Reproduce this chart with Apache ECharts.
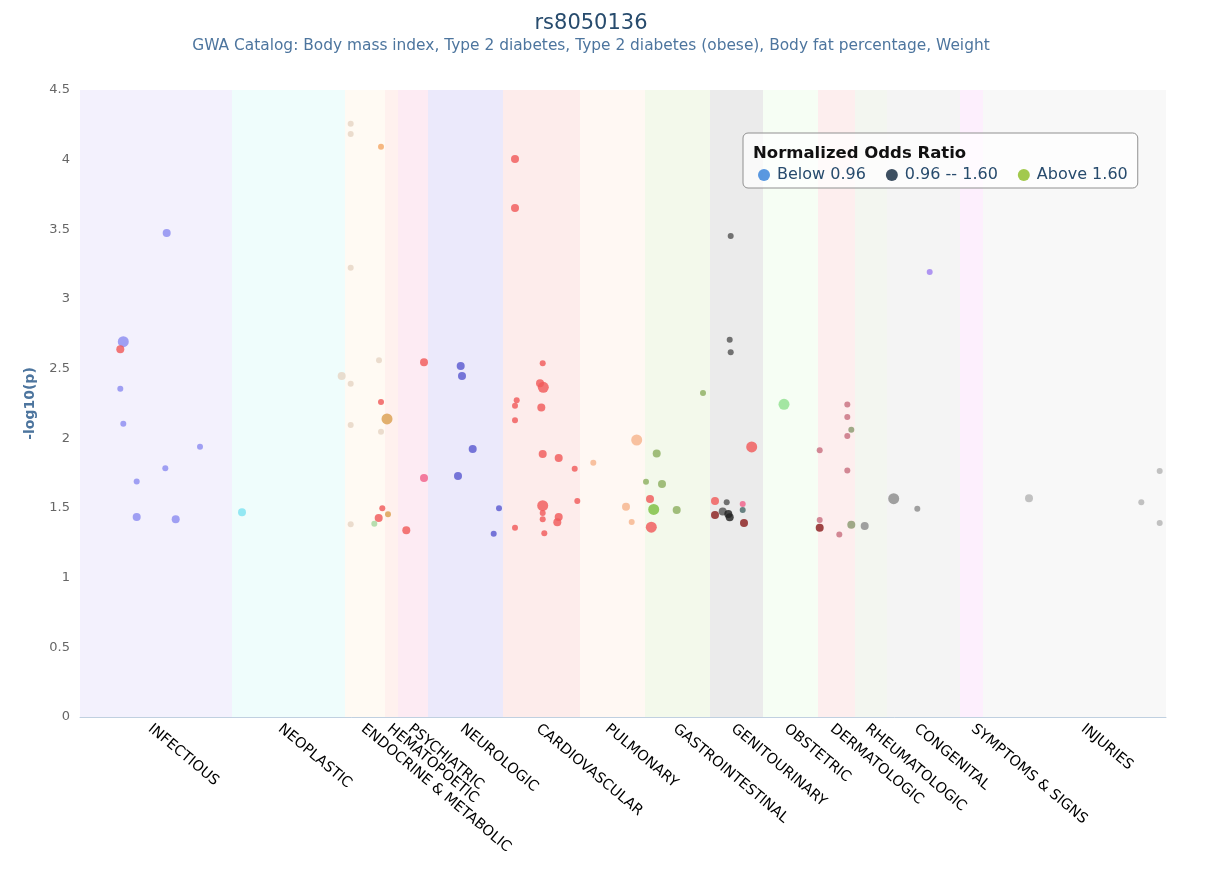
<!DOCTYPE html>
<html><head><meta charset="utf-8">
<script src="https://cdn.jsdelivr.net/npm/echarts@6/dist/echarts.min.js"></script>
<style>html,body{margin:0;padding:0;background:#fff}#c{width:1220px;height:881px}</style>
</head><body><div id="c"></div>
<script>
// ---------------- data ----------------
const titleText = 'rs8050136';
const subtitleText = 'GWA Catalog: Body mass index, Type 2 diabetes, Type 2 diabetes (obese), Body fat percentage, Weight';
const categories = ['INFECTIOUS','NEOPLASTIC','ENDOCRINE & METABOLIC','HEMATOPOETIC','PSYCHIATRIC','NEUROLOGIC','CARDIOVASCULAR','PULMONARY','GASTROINTESTINAL','GENITOURINARY','OBSTETRIC','DERMATOLOGIC','RHEUMATOLOGIC','CONGENITAL','SYMPTOMS & SIGNS','INJURIES'];
// phenotype-position boundaries of each category
const categoryEdges = [0,152,265,305,318,348,423,500,565,630,683,738,775,807,880,903,1086];
// phenotype-position of each category's tick label
const categoryTicks = [70,200,283,309,330,382,458,527,595,653,706,752,787,836,893,1003];
const yTicks = [0,0.5,1,1.5,2,2.5,3,3.5,4,4.5];
const legendTitle = 'Normalized Odds Ratio';
const legendNames = ['Below 0.96','0.96 -- 1.60','Above 1.60'];
// [position, -log10(p), weight class, group]
const points = [
  [43.3,2.694,3,'inf'],[40.3,2.64,2,'red'],[40.3,2.356,1,'inf'],[43.3,2.105,1,'inf'],[120,1.94,1,'inf'],
  [85.3,1.785,1,'inf'],[56.7,1.69,1,'inf'],[56.7,1.435,2,'inf'],[95.7,1.419,2,'inf'],[86.7,3.474,2,'inf'],
  [162,1.469,2,'cyan'],
  [270.7,4.258,1,'beige'],[270.7,4.184,1,'beige'],[270.7,3.225,1,'beige'],[299,2.56,1,'beige'],[261.7,2.447,2,'beige'],
  [270.7,2.392,1,'beige'],[270.7,2.096,1,'beige'],[301,2.048,1,'beige'],[270.7,1.383,1,'beige'],
  [301,4.093,1,'orange'],[307,2.139,3,'tan'],[308,1.455,1,'tan'],
  [301,2.261,1,'red'],[302.3,1.498,1,'red'],[298.7,1.428,2,'red'],[294.3,1.387,1,'lgreen'],
  [344,2.546,2,'red'],[344,1.715,2,'pink'],[326.3,1.34,2,'red'],
  [380.7,2.52,2,'neuro'],[382,2.447,2,'neuro'],[392.7,1.923,2,'neuro'],[378,1.73,2,'neuro'],[419,1.498,1,'neuro'],[413.7,1.316,1,'neuro'],
  [435,4.005,2,'red'],[435,3.653,2,'red'],[462.7,2.538,1,'red'],[460,2.395,2,'red'],[463.3,2.366,3,'red'],
  [436.7,2.273,1,'red'],[435,2.234,1,'red'],[461.3,2.222,2,'red'],[435,2.129,1,'red'],[462.7,1.888,2,'red'],
  [478.7,1.859,2,'red'],[494.7,1.782,1,'red'],[497.3,1.55,1,'red'],[462.7,1.517,3,'red'],[462.7,1.464,1,'red'],
  [478.7,1.435,2,'red'],[462.7,1.419,1,'red'],[477.3,1.397,2,'red'],[435,1.359,1,'red'],[464.3,1.318,1,'red'],
  [556.7,1.988,3,'peach'],[513.3,1.825,1,'peach'],[546,1.509,2,'peach'],[551.7,1.4,1,'peach'],
  [570,1.565,2,'red'],[571.3,1.362,3,'red'],
  [576.7,1.892,2,'olive'],[566,1.689,1,'olive'],[582,1.672,2,'olive'],[573.7,1.49,3,'green'],[596.7,1.486,2,'olive'],[623,2.325,1,'olive'],
  [650.7,3.452,1,'dgrey'],[649.7,2.708,1,'dgrey'],[650.7,2.617,1,'dgrey'],[671.7,1.938,3,'red'],[635,1.55,2,'red'],
  [646.7,1.541,1,'dgrey'],[662.7,1.529,1,'pink'],[662.7,1.486,1,'teal'],[642.7,1.474,2,'dgrey'],[648.3,1.457,2,'black'],
  [649.7,1.433,2,'black'],[635,1.45,2,'dred'],[664,1.392,2,'dred'],
  [704,2.244,3,'mint'],
  [767.3,2.242,1,'rose'],[767.3,2.153,1,'rose'],[767.3,2.017,1,'rose'],[739.7,1.914,1,'rose'],[767.3,1.77,1,'rose'],
  [739.7,1.414,1,'rose'],[739.7,1.359,2,'dred'],[759.3,1.309,1,'rose'],
  [771.3,2.062,1,'olive2'],[771.3,1.38,2,'olive2'],[784.7,1.371,2,'grey'],
  [849.7,3.194,1,'purple'],[813.7,1.567,3,'grey'],[837.3,1.495,1,'grey'],
  [949,1.57,2,'lgrey'],[1061.3,1.541,1,'lgrey'],[1079.7,1.766,1,'lgrey'],[1079.7,1.392,1,'lgrey']
];

// ---------------- styles ----------------
const FONT = 'DejaVu Sans';
const bandColors = ['#f3f1fd','#effdfc','#fffaf3','#fff1ee','#fdebf3','#ebe9fb','#fdeceb','#fff8f3','#f3f9eb','#ebebeb','#f6fef4','#fdeeee','#f3f6f0','#f4f4f4','#fdeffd','#f8f8f8'];
const groupColors = {
  inf:'#8c8cf0', red:'#f05a5a', cyan:'#7fe3f0', beige:'#e6d6c4', orange:'#f4a868', tan:'#dca050',
  lgreen:'#a8d8a0', pink:'#f0608a', neuro:'#5a5ad0', peach:'#f7b48c', olive:'#8db060', green:'#7cc040',
  dgrey:'#555555', black:'#222222', dred:'#8a1f1f', teal:'#4a6a6a', mint:'#90e090', rose:'#c87080',
  olive2:'#8a9a70', grey:'#8c8c8c', purple:'#a080f0', lgrey:'#b4b4b4'
};
const sizeByWeight = {1:6, 2:8, 3:11};
const legendColors = ['#2f7ed8','#0d233a','#8bbc21'];

const bands = categories.map((c,i)=> [
  {xAxis: categoryEdges[i], itemStyle:{color: bandColors[i]}},
  {xAxis: categoryEdges[i+1]}
]);

const chart = echarts.init(document.getElementById('c'));
chart.setOption({
  animation:false,
  textStyle:{fontFamily:FONT},
  title:{
    text:titleText, subtext:subtitleText, left:586, textAlign:'center', top:8, itemGap:4,
    textStyle:{fontFamily:FONT,fontSize:21,fontWeight:'normal',color:'#274b6d'},
    subtextStyle:{fontFamily:FONT,fontSize:15.4,color:'#4d759e'}
  },
  grid:{left:80,right:54,top:90,bottom:164},
  xAxis:{
    type:'value', min:categoryEdges[0], max:categoryEdges[categoryEdges.length-1],
    splitLine:{show:false}, axisTick:{show:false},
    axisLine:{show:true,lineStyle:{color:'#c0d0e0',width:1}},
    axisLabel:{
      customValues:categoryTicks, rotate:-40, margin:10, color:'#000', fontSize:14.5, fontFamily:FONT,
      formatter:(v)=>{ let k=0,b=1e9; categoryTicks.forEach((c,i)=>{ if(Math.abs(c-v)<b){b=Math.abs(c-v);k=i;} }); return categories[k]; }
    }
  },
  yAxis:{
    type:'value', min:yTicks[0], max:yTicks[yTicks.length-1], interval:yTicks[1]-yTicks[0],
    name:'-log10(p)', nameLocation:'middle', nameGap:43,
    nameTextStyle:{color:'#4d759e',fontSize:14,fontWeight:'bold',fontFamily:FONT},
    axisLine:{show:false}, axisTick:{show:false},
    axisLabel:{color:'#666',fontSize:13,margin:10,fontFamily:FONT},
    splitLine:{lineStyle:{color:'#e2e2e2',width:1}}
  },
  legend:{
    data:legendNames, left:743, top:133, orient:'horizontal',
    padding:[34,10,5,15], itemGap:20, itemWidth:12, itemHeight:12, icon:'circle',
    backgroundColor:'rgba(255,255,255,0.7)', borderColor:'#909090', borderWidth:1, borderRadius:5,
    textStyle:{fontSize:16,color:'#274b6d',fontFamily:FONT,padding:[0,0,0,2]},
    selectedMode:false
  },
  graphic:[{type:'text', left:753, top:145, z:100,
    style:{text:legendTitle, fontSize:16.5, fontWeight:'bold', fill:'#111', fontFamily:FONT}}],
  series:[
    {
      name:'points', type:'scatter', z:3,
      data: points.map(p=>({value:[p[0],p[1]], symbolSize:sizeByWeight[p[2]],
        itemStyle:{color:groupColors[p[3]], opacity:0.82}})),
      markArea:{silent:true, data:bands, emphasis:{disabled:true}},
      emphasis:{disabled:true}
    },
    ...legendNames.map((n,i)=>({name:n, type:'scatter', data:[], itemStyle:{color:legendColors[i]}}))
  ]
});
</script></body></html>
